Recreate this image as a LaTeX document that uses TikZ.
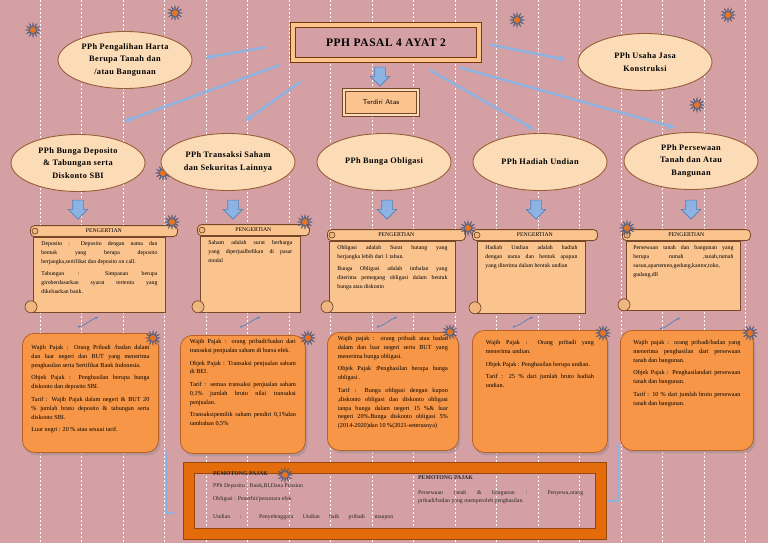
\documentclass[tikz,border=0pt]{standalone}
\usepackage{fontspec}
\setmainfont{Liberation Serif}
\newfontfamily\ellfont[LetterSpace=5.0]{Liberation Serif}
\usetikzlibrary{positioning,arrows.meta,calc,shapes.geometric,shapes.arrows,shadows}
\definecolor{bgpink}{RGB}{212,160,164}
\definecolor{peach}{RGB}{252,219,183}
\definecolor{ellbrown}{RGB}{152,94,58}
\definecolor{scrollfill}{RGB}{251,196,143}
\definecolor{scrolledge}{RGB}{118,72,40}
\definecolor{boxorange}{RGB}{247,150,70}
\definecolor{boxedge}{RGB}{182,96,36}
\definecolor{skyblue}{RGB}{141,179,226}
\definecolor{arrowedge}{RGB}{79,129,189}
\definecolor{frameorange}{RGB}{228,108,10}
\definecolor{frameedge}{RGB}{150,70,10}
\definecolor{starblue}{RGB}{105,115,150}
\definecolor{starorange}{RGB}{232,115,30}

% body text of scrolls and boxes
\newcommand{\txtbox}[4][6.2]{\parbox[c][#2][t]{#3}{\setlength{\parskip}{3.5pt}\tolerance=9999
  \fontsize{#1}{8.9}\selectfont #4}}

\begin{document}
\begin{tikzpicture}[x=1pt, y=-1pt,
  ell/.style={ellipse, draw=ellbrown, line width=0.9pt, fill=peach, minimum width=134pt,
    minimum height=57pt, inner sep=0pt, align=center, font=\ellfont\bfseries\fontsize{8.3}{12.5}\selectfont},
  conn/.style={-{Latex[length=7pt,width=7pt]}, skyblue, line width=2.4pt},
  downarr/.style={single arrow, shape border rotate=270, draw=arrowedge, fill=skyblue,
    line width=0.6pt, minimum height=19pt, inner sep=5pt, single arrow head extend=4.5pt},
  scrollbody/.style={draw=scrolledge, fill=scrollfill, line width=0.8pt, anchor=north west, inner ysep=4pt},
  band/.style={draw=scrolledge, fill=scrollfill, line width=0.8pt, rounded corners=4pt,
    minimum height=11pt, inner sep=0pt, anchor=south west, font=\fontsize{5.8}{6}\selectfont},
  curl/.style={draw=scrolledge, fill=scrollfill!80!brown, line width=0.7pt},
  obox/.style={draw=boxedge, fill=boxorange, line width=0.8pt, rounded corners=12pt, anchor=north west,
    drop shadow={opacity=0.35, shadow xshift=2pt, shadow yshift=-3pt}},
  link/.style={{Stealth[length=2.5pt]}-{Stealth[length=3.5pt]}, arrowedge, line width=0.7pt},
  burst/.style={star, star points=12, star point ratio=2.4, minimum size=15pt, inner sep=0pt,
    fill=starblue, draw=starblue!70!black, line width=0.3pt},
  ptext/.style={anchor=north west, inner sep=0pt, align=left, text=black!85, font=\fontsize{5.8}{12.5}\selectfont}]
\useasboundingbox (0,0) rectangle (768,543);
\fill[bgpink] (0,0) rectangle (768,543);
\foreach \x in {40,81.5,...,760}
  \draw[white, line width=0.6pt, dash pattern=on 2pt off 2pt] (\x,0) -- (\x,543);
\node[burst] (star0) at (163,173) {};
\fill[starorange] (star0.center) circle (3pt);

% title
\node[draw=frameedge!80!black, line width=0.7pt, double=scrollfill, double distance=4pt, fill=bgpink,
  minimum width=186pt, minimum height=35pt, font=\ellfont\bfseries\fontsize{11.5}{13}\selectfont] (title) at (386,42.5) {PPH PASAL 4 AYAT 2};
\node[downarr] (tarrow) at (380,74) {};
\node[draw=scrolledge, line width=0.6pt, double=scrollfill!60!white, double distance=2pt, fill=scrollfill,
  minimum width=74pt, minimum height=25pt, font=\sffamily\fontsize{7}{8}\selectfont] (atas) at (381,102.5) {Terdiri Atas};

% jenis pph
\node[ell] (pengalihan) at (125,60) {PPh Pengalihan Harta\\ Berupa Tanah dan\\ /atau Bangunan};
\node[ell] (usaha) at (645,62) {PPh Usaha Jasa\\ Konstruksi};
\node[ell] (deposito) at (78,163) {PPh Bunga Deposito\\ \& Tabungan serta\\ Diskonto SBI};
\node[ell] (transaksi) at (228,162) {PPh Transaksi Saham\\ dan Sekuritas Lainnya};
\node[ell] (obligasi) at (384,162) {PPh Bunga Obligasi};
\node[ell] (hadiah) at (540,162) {PPh Hadiah Undian};
\node[ell] (persewaan) at (691,161) {PPh Persewaan\\ Tanah dan Atau\\ Bangunan};

\draw[conn, shorten <=28pt, shorten >=13pt] (title.west) -- (pengalihan.east);
\draw[conn, shorten <=14pt, shorten >=37pt] (title.south west) -- (deposito.70);
\draw[conn, shorten <=37pt, shorten >=20pt] ([xshift=-55pt]title.south) -- (transaksi.north);
\draw[conn, shorten <=11pt, shorten >=12pt] (title.east) -- (usaha.west);
\draw[conn, shorten <=19pt, shorten >=7pt] ([xshift=27pt]title.south) -- (hadiah.north);
\draw[conn, shorten <=27pt, shorten >=16pt] ([xshift=48pt]title.south) -- (persewaan.north);

\node[downarr] (d1) at (78,207) {};
\node[downarr] (d2) at (233,207) {};
\node[downarr] (d3) at (387,207) {};
\node[downarr] (d4) at (536,207) {};
\node[downarr] (d5) at (691,207) {};

% pengertian
\node[scrollbody, inner xsep=8pt] (s1) at (33,237) {\txtbox[5.8]{67pt}{116pt}{Deposito : Deposito dengan nama dan\linebreak
  bentuk yang berupa deposito\linebreak berjangka,sertifikat dan deposito on call.\par
  Tabungan : Simpanan berupa\linebreak giroberdasarkan syarat tertentu yang\linebreak dikeluarkan bank.}};
\node[scrollbody, inner xsep=8pt] (s2) at (200,236) {\txtbox[5.8]{68pt}{84pt}{Saham adalah surat berharga\linebreak
  yang diperjualbelikan di pasar\linebreak modal}};
\node[scrollbody, inner xsep=8pt] (s3) at (329,241) {\txtbox[5.8]{63pt}{110pt}{Obligasi adalah Surat hutang yang\linebreak
  berjangka lebih dari 1 tahun.\par Bunga Obligasi adalah imbalan yang\linebreak
  diterima pemegang obligasi dalam bentuk\linebreak bunga atau diskonto}};
\node[scrollbody, inner xsep=8pt] (s4) at (477,241) {\txtbox[5.8]{64pt}{92pt}{Hadiah Undian adalah hadiah\linebreak
  dengan nama dan bentuk apapun\linebreak yang diterima dalam bentuk undian}};
\node[scrollbody, inner xsep=7pt] (s5) at (626,241) {\txtbox[5.8]{61pt}{100pt}{Persewaan tanah dan bangunan yang\linebreak
  berupa rumah ,tanah,rumah\linebreak susun,apartemen,gedung,kantor,toko,\linebreak gudang,dll}};

\node[band, minimum width=147pt] (b1) at ([xshift=-3pt]s1.north west) {PENGERTIAN};
\node[band, minimum width=112pt] (b2) at ([xshift=-3pt]s2.north west) {PENGERTIAN};
\node[band, minimum width=138pt] (b3) at ([xshift=-2pt]s3.north west) {PENGERTIAN};
\node[band, minimum width=125pt] (b4) at ([xshift=-5pt]s4.north west) {PENGERTIAN};
\node[band, minimum width=128pt] (b5) at ([xshift=-4pt]s5.north west) {PENGERTIAN};
\foreach \s in {1,...,5} {
  \draw[curl] ([xshift=5pt]b\s.west) circle (3pt);
  \draw[curl] ([xshift=-2pt,yshift=6pt]s\s.south west) circle (6pt);
}

% wajib pajak, objek, tarif
\node[obox, inner xsep=9pt, inner ysep=12pt] (o1) at (22,333) {\txtbox{95pt}{118pt}{Wajib Pajak : Orang Pribadi /badan dalam\linebreak
  dan luar negeri dan BUT yang menerima\linebreak penghasilan serta Sertifikat Bank Indonesia.\par
  Objek Pajak : Penghasilan berupa bunga\linebreak diskonto dan deposito SBI.\par
  Tarif : Wajib Pajak dalam negeri \& BUT 20\linebreak \% jumlah bruto deposito \& tabungan serta\linebreak diskonto SBI.\par
  Luar negri : 20 \% atau sesuai tarif.}};
\node[obox, inner xsep=9.5pt, inner ysep=4pt] (o2) at (180,335) {\txtbox{110pt}{106pt}{Wajib Pajak : orang pribadi/badan dari\linebreak
  transaksi penjualan saham di bursa efek.\par
  Objek Pajak : Transaksi penjualan saham\linebreak di BEI.\par
  Tarif : semua transaksi penjualan saham\linebreak 0,1\% jumlah bruto nilai transaksi\linebreak penjualan.\par
  Transaksipemilik saham pendiri 0,1\%dan\linebreak tambahan 0,5\%}};
\node[obox, inner xsep=10.5pt, inner ysep=4pt] (o3) at (327,332) {\txtbox{110pt}{110pt}{Wajib pajak : orang pribadi atau badan\linebreak
  dalam dan luar negeri serta BUT yang\linebreak menerima bunga obligasi.\par
  Objek Pajak :Penghasilan berupa bunga\linebreak obligasi .\par
  Tarif : Bunga obligasi dengan kupon\linebreak ,diskonto obligasi dan diskonto obligasi\linebreak
  tanpa bunga dalam negeri 15 \%\& luar\linebreak negeri 20\%.Bunga diskonto obligasi 5\%\linebreak
  (2014-2020)dan 10 \%(2021-seterusnya)}};
\node[obox, inner xsep=13.5pt, inner ysep=10pt] (o4) at (472,330) {\txtbox{102pt}{108pt}{Wajib Pajak : Orang pribadi yang\linebreak
  menerima undian.\par
  Objek Pajak : Penghasilan berupa undian.\par
  Tarif : 25 \% dari jumlah bruto hadiah\linebreak undian.}};
\node[obox, inner xsep=13pt, inner ysep=10pt] (o5) at (620,330) {\txtbox{100pt}{107pt}{Wajib pajak : orang pribadi/badan yang\linebreak
  menerima penghasilan dari persewaan\linebreak tanah dan bangunan.\par
  Objek Pajak : Penghasilandari persewaan\linebreak tanah dan bangunan.\par
  Tarif : 10 \% dari jumlah bruto persewaan\linebreak tanah dan bangunan.}};

\draw[link] ([xshift=-13pt,yshift=6pt]o1.north) .. controls +(7,-1) and +(-8,3) .. ([xshift=-1pt,yshift=-4pt]s1.south);
\draw[link] ([xshift=-3.5pt,yshift=8pt]o2.north) .. controls +(7,-1) and +(-8,3) .. ([xshift=10pt,yshift=-4pt]s2.south);
\draw[link] ([xshift=-16.5pt,yshift=5pt]o3.north) .. controls +(7,-1) and +(-8,3) .. ([xshift=5pt,yshift=-4pt]s3.south);
\draw[link] ([xshift=-27.5pt,yshift=3pt]o4.north) .. controls +(7,-1) and +(-8,3) .. ([xshift=2pt,yshift=-3pt]s4.south);
\draw[link] ([xshift=-27.5pt,yshift=1pt]o5.north) .. controls +(7,-1) and +(-8,3) .. ([xshift=-3pt,yshift=-7pt]s5.south);

% pemotong pajak
\node[draw=frameedge, line width=0.7pt, double=frameorange, double distance=10pt, outer sep=6pt,
  minimum width=412pt, minimum height=66pt, inner sep=0pt] (frame) at (395,501) {};
\node[ptext] (potL) at (213,471) {\textbf{PEMOTONG PAJAK}\\ PPh Deposito : Bank,BI,Dana Pensiun\\
  Obligasi : Penerbit/perantara efek\\[6pt] \makebox[180pt][s]{Undian : Penyelenggara Undian baik pribadi maupun}};
\node[ptext, text width=165pt, align=justify, font=\fontsize{5.8}{8}\selectfont] (potR) at (418,475)
  {\textbf{PEMOTONG PAJAK}\par\vspace{7pt} Persewaan tanah \& bangunan : Penyewa,orang\linebreak
  pribadi/badan yang memperoleh penghasilan.};
\draw[-{Latex[length=4pt,width=4pt]}, skyblue, line width=1.8pt] (frame.east) -| ([xshift=-2pt,yshift=8pt]o5.south west);
\draw[-{Latex[length=4pt,width=4pt]}, skyblue, line width=1.8pt, shorten >=8pt]
  ([xshift=8pt,yshift=2pt]o1.south east) |- ([yshift=-12pt]frame.west);

\foreach \p [count=\i] in {(33,30),(175,13),(517,20),(728,15),(697,105),(172,222),(305,222),(468,228),
  (627,228),(153,338),(308,338),(450,332),(603,333),(750,333),(285,475)} {
  \node[burst] (star\i) at \p {};
  \fill[starorange] (star\i.center) circle (3pt);
}
\end{tikzpicture}
\end{document}
